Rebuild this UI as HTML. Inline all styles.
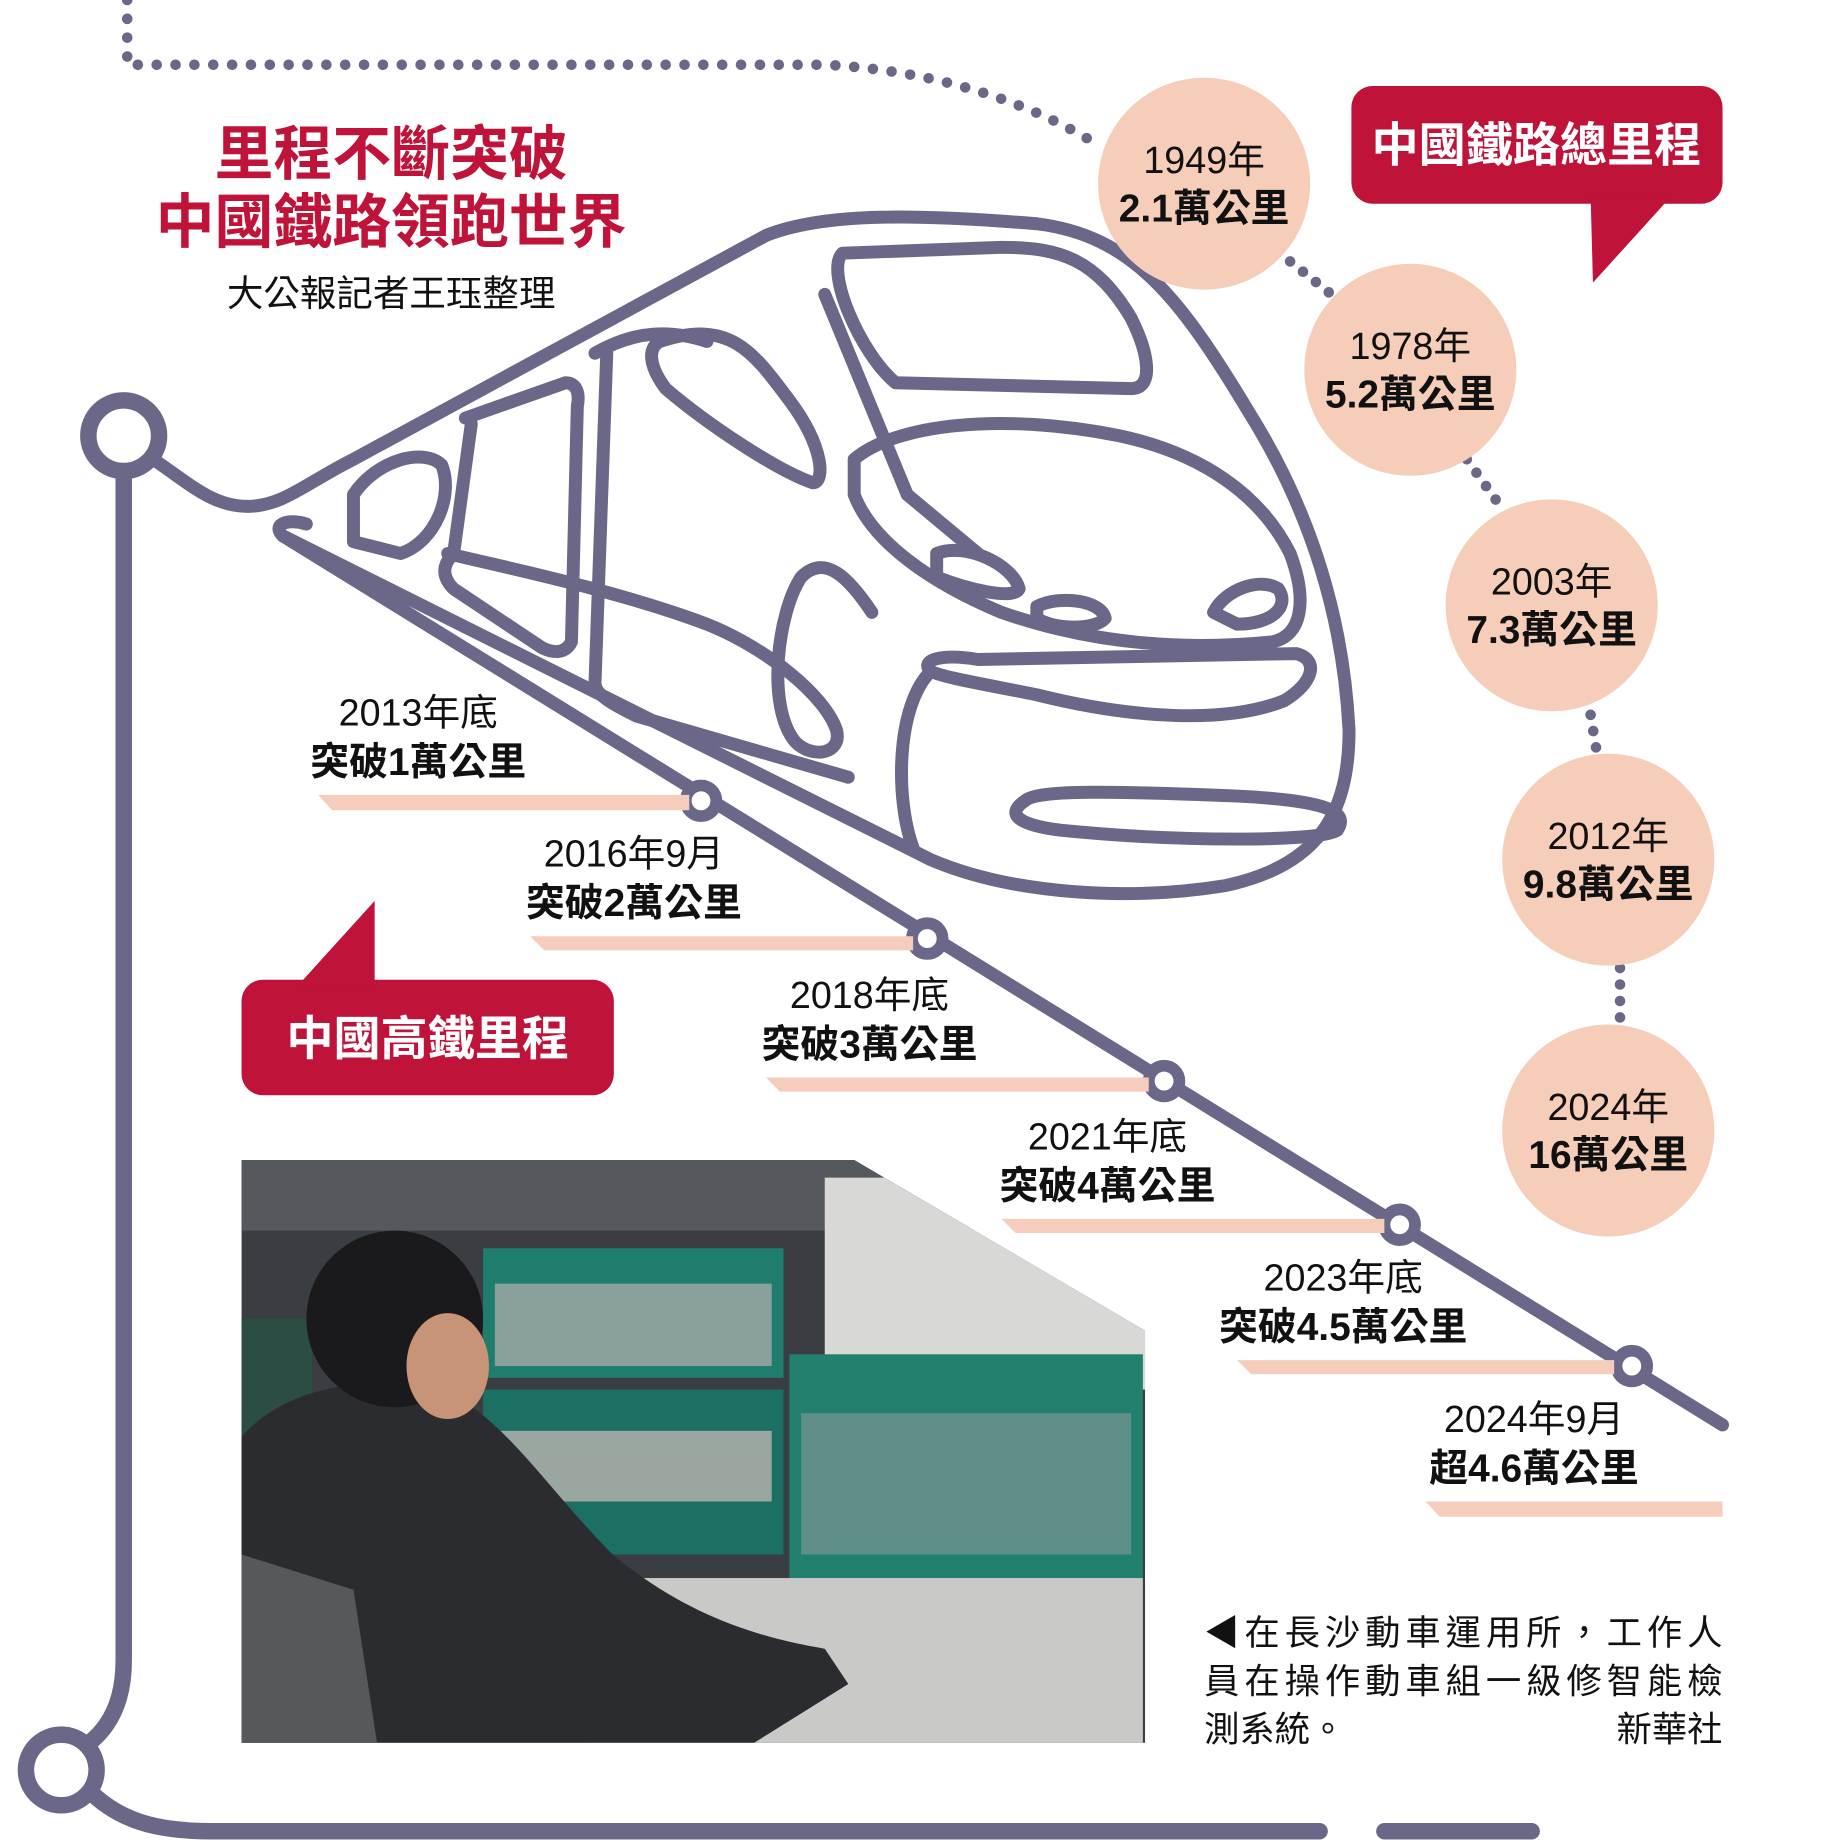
<!DOCTYPE html>
<html><head><meta charset="utf-8"><style>
html,body{margin:0;padding:0;background:#fff}
svg{display:block}
text{font-family:"Liberation Sans","Noto Sans CJK TC",sans-serif}
.y{font-size:32px;fill:#111;text-anchor:middle}
.b{font-size:33px;font-weight:bold;fill:#111;text-anchor:middle}
</style></head><body>
<svg width="1838" height="1843" viewBox="0 0 1560 1565" preserveAspectRatio="none" xmlns="http://www.w3.org/2000/svg">
<g fill="none" stroke="#6b6789" stroke-linecap="round" stroke-linejoin="round">
<path d="M108 0 V55 H700 C800 60 880 90 935 125" stroke-width="9" stroke-dasharray="0 16"/>
<path d="M1095 222 L1130 250 M1245 390 L1275 432 M1350 607 L1355 637 M1375 822 L1375 872" stroke-width="9" stroke-dasharray="0 14"/>
<path d="M105 400 V1410 C105 1460 80 1480 60 1490" stroke-width="14"/>
<path d="M75 1520 C100 1545 130 1555 180 1555 H1120 M1175 1555 H1300" stroke-width="14"/>
<g stroke-width="11">
<path d="M130 390 C160 410 180 430 210 430 C240 430 260 410 300 390 L650 200 C700 180 780 182 880 190 C960 200 1000 250 1060 350 C1110 430 1140 520 1145 620 C1145 690 1120 735 1040 752 C960 765 860 760 790 730 L240 455 C230 445 245 440 260 445"/>
<path d="M240 455 L1462 1210"/>
<path d="M715 215 C700 230 730 300 760 325 L960 330 C980 330 975 300 960 270 C930 220 900 210 850 210 Z"/>
<path d="M560 290 C620 270 640 300 670 340 C700 380 700 410 690 410 C660 400 600 360 565 330 C550 310 550 295 560 290 Z"/>
<path d="M300 420 C320 390 360 380 375 395 C385 420 370 460 340 470 L300 460 Z"/>
<path d="M395 355 L480 325 C490 325 492 335 490 345 L485 545 C480 555 470 555 460 550 L385 500 C375 490 375 480 385 470 L400 360"/>
<path d="M505 300 C540 280 570 280 600 290 M515 300 L505 580 C505 590 520 598 540 608 L720 660"/>
<path d="M380 470 C420 480 520 500 600 530 C650 550 700 590 710 620 C715 640 690 645 675 630 C650 600 660 520 680 490 C700 470 720 490 740 520"/>
<path d="M725 390 C760 360 850 350 950 370 C1020 385 1070 420 1095 470 C1110 510 1105 540 1080 545 C1010 552 930 548 850 520 C790 495 740 460 725 420 Z"/>
<path d="M795 470 C820 460 860 480 865 500 C860 510 820 500 795 490 Z"/>
<path d="M880 515 C900 505 935 510 938 525 C930 535 895 535 880 525 Z"/>
<path d="M1030 520 C1040 500 1070 490 1085 500 C1095 515 1080 530 1050 530 Z"/>
<path d="M790 570 C780 560 800 555 830 560 L1100 555 C1120 560 1115 580 1090 595 C1040 615 960 610 880 590 C830 580 800 575 790 570"/>
<path d="M790 570 C760 600 760 680 775 720"/>
<path d="M870 680 C880 670 950 672 1050 676 C1130 680 1145 690 1135 705 C1120 715 1000 715 900 705 C860 700 855 690 870 680 Z"/>
<path d="M700 250 L770 420 L830 470"/>
</g>
<circle cx="105" cy="370" r="30" fill="#fff" stroke-width="14"/>
<circle cx="52" cy="1503" r="30" fill="#fff" stroke-width="14"/>
<g fill="#fff" stroke-width="10">
<circle cx="595" cy="680" r="13"/><circle cx="787" cy="797" r="13"/><circle cx="988" cy="918" r="13"/>
<circle cx="1188" cy="1040" r="13"/><circle cx="1385" cy="1160" r="13"/>
</g>
</g>
<g fill="#f5cdb8">
<circle cx="1022" cy="156" r="90"/><circle cx="1197" cy="314" r="90"/><circle cx="1317" cy="514" r="90"/>
<circle cx="1365" cy="730" r="90"/><circle cx="1365" cy="960" r="90"/>
</g>
<text class="y" x="1022" y="147">1949年</text><text class="b" x="1022" y="188">2.1萬公里</text>
<text class="y" x="1197" y="305">1978年</text><text class="b" x="1197" y="346">5.2萬公里</text>
<text class="y" x="1317" y="505">2003年</text><text class="b" x="1317" y="546">7.3萬公里</text>
<text class="y" x="1365" y="721">2012年</text><text class="b" x="1365" y="762">9.8萬公里</text>
<text class="y" x="1365" y="951">2024年</text><text class="b" x="1365" y="992">16萬公里</text>
<rect x="1147" y="73" width="315" height="100" rx="18" fill="#bf1339"/>
<polygon points="1350,165 1420,165 1352,240" fill="#bf1339"/>
<text x="1304" y="137" font-size="40" font-weight="bold" fill="#fff" text-anchor="middle">中國鐵路總里程</text>
<rect x="205" y="832" width="316" height="98" rx="18" fill="#bf1339"/>
<polygon points="250,840 318,840 318,765" fill="#bf1339"/>
<text x="363" y="896" font-size="40" font-weight="bold" fill="#fff" text-anchor="middle">中國高鐵里程</text>
<text x="332" y="148" font-size="50" font-weight="bold" fill="#bf1339" text-anchor="middle">里程不斷突破</text>
<text x="332" y="206" font-size="50" font-weight="bold" fill="#bf1339" text-anchor="middle">中國鐵路領跑世界</text>
<text x="332" y="260" font-size="31" fill="#111" text-anchor="middle">大公報記者王珏整理</text>
<g fill="#f6cdbd">
<polygon points="270,675 585,675 585,688 282,688"/>
<polygon points="450,795 775,795 775,807 462,807"/>
<polygon points="650,915 975,915 975,927 662,927"/>
<polygon points="850,1035 1175,1035 1175,1047 862,1047"/>
<polygon points="1050,1155 1370,1155 1370,1167 1062,1167"/>
<polygon points="1210,1275 1462,1275 1462,1288 1222,1288"/>
</g>
<text class="y" x="355" y="616">2013年底</text><text class="b" x="355" y="658">突破1萬公里</text>
<text class="y" x="538" y="736">2016年9月</text><text class="b" x="538" y="778">突破2萬公里</text>
<text class="y" x="738" y="856">2018年底</text><text class="b" x="738" y="898">突破3萬公里</text>
<text class="y" x="940" y="976">2021年底</text><text class="b" x="940" y="1018">突破4萬公里</text>
<text class="y" x="1140" y="1096">2023年底</text><text class="b" x="1140" y="1138">突破4.5萬公里</text>
<text class="y" x="1302" y="1216">2024年9月</text><text class="b" x="1302" y="1258">超4.6萬公里</text>
<clipPath id="cp"><polygon points="205,985 725,985 972,1130 972,1480 205,1480"/></clipPath>
<g clip-path="url(#cp)">
<rect x="205" y="985" width="767" height="495" fill="#3a3d42"/>
<rect x="205" y="985" width="767" height="60" fill="#55585c"/>
<rect x="700" y="1000" width="272" height="180" fill="#d8d8d6"/>
<rect x="410" y="1060" width="255" height="110" fill="#1f7d6e"/>
<rect x="410" y="1180" width="255" height="140" fill="#1c6f63"/>
<rect x="670" y="1150" width="300" height="190" fill="#22806f"/>
<rect x="680" y="1200" width="280" height="120" fill="#5f8f86"/>
<rect x="420" y="1090" width="235" height="70" fill="#8aa09a"/>
<rect x="420" y="1215" width="235" height="60" fill="#9aa7a0"/>
<rect x="500" y="1340" width="470" height="140" fill="#c9c9c7"/>
<rect x="205" y="1120" width="60" height="100" fill="#2b4d43"/>
<path d="M205 1480 V1220 C240 1180 300 1170 360 1175 C420 1190 460 1260 520 1320 C580 1370 640 1390 700 1400 L720 1430 L640 1480 Z" fill="#2a2c2f"/>
<path d="M205 1320 L300 1350 L320 1480 L205 1480 Z" fill="#55595c"/>
<ellipse cx="335" cy="1120" rx="75" ry="75" fill="#1a1a1c"/>
<ellipse cx="380" cy="1160" rx="35" ry="45" fill="#c89478"/>
</g>
<g font-size="30" fill="#111">
<text x="1022" y="1397" textLength="440" lengthAdjust="spacing">◀在長沙動車運用所，工作人</text>
<text x="1022" y="1438" textLength="440" lengthAdjust="spacing">員在操作動車組一級修智能檢</text>
<text x="1022" y="1479">測系統。</text>
<text x="1462" y="1479" text-anchor="end">新華社</text>
</g>
</svg>
</body></html>
